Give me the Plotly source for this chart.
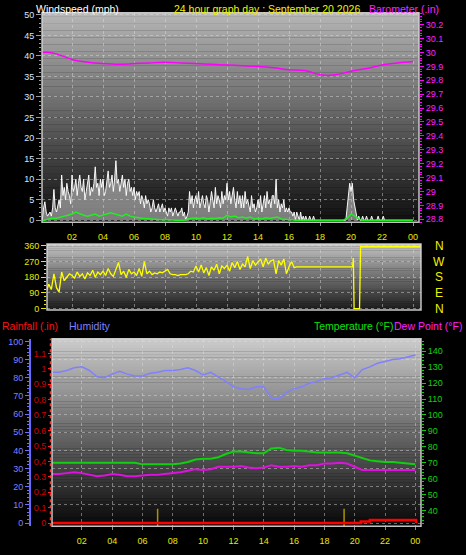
import numpy as np
import plotly.graph_objects as go

W, H = 466, 555

# ---------------- data ----------------
hour_ticks = [2, 4, 6, 8, 10, 12, 14, 16, 18, 20, 22, 24]
hour_labels = ['02', '04', '06', '08', '10', '12', '14', '16', '18', '20', '22', '00']

# wind gust (mph), 5-minute samples from 00:00
gust = [
    0, 0, 3, 4.5, 2, 1, 1.5, 2, 1, 3, 7.5, 3,
    2, 4, 5, 3, 11, 6, 8, 5, 9, 7, 6, 4,
    11, 7, 8, 10, 6, 9, 11, 8, 7, 10, 5, 7,
    9, 11, 6, 8, 7, 9, 13, 8, 9, 6, 10, 8,
    10, 6, 7, 9, 12, 8, 9, 11, 7, 10, 14.5, 9,
    10, 7, 9, 11, 8, 10, 6, 9, 10, 7, 8, 6,
    8, 5, 7, 6, 7, 4, 6, 5, 3, 6, 4, 5,
    4, 2, 3, 5, 3, 2, 3, 4, 2, 3, 4, 2,
    3, 2, 1, 3, 2, 3, 1, 2, 3, 2, 1, 2,
    2, 3, 1, 2, 0, 1, 2, 7, 4, 6, 3, 5,
    6, 4, 7, 3, 5, 6, 4, 3, 6, 5, 2, 4,
    7, 5, 3, 8, 4, 6, 5, 3, 7, 4, 6, 5,
    9, 5, 7, 4, 6, 8, 5, 3, 7, 4, 6, 3,
    6, 3, 7, 4, 5, 3, 2, 6, 3, 4, 2, 3,
    5, 3, 6, 2, 4, 6, 3, 7, 4, 5, 3, 6,
    6, 4, 10, 3, 5, 2, 4, 3, 5, 2, 3, 2,
    3, 2, 2, 1, 2, 0, 2, 1, 0, 2, 0, 1,
    0, 1, 0, 0, 1, 0, 0, 1, 0, 0, 0, 0,
    0, 0, 0, 0, 0, 0, 0, 0, 0, 0, 0, 0,
    0, 0, 0, 0, 0, 0, 0, 0, 0, 3, 6, 9,
    7, 9, 5, 3, 1, 0, 1, 0, 0, 1, 0, 0,
    1, 0, 0, 0, 1, 0, 0, 0, 0, 1, 0, 0,
    0, 1, 0, 0, 0, 0, 0, 0, 0, 0, 0, 0,
    0, 0, 0, 0, 0, 0, 0, 0, 0, 0, 0, 0,
    0,
]
gust_time = np.arange(len(gust)) / 12.0

# average wind speed (mph), 15-minute samples
avg_wind = [
    0, 0, 0.3, 0.5,
    0.5, 0.8, 1, 1.2,
    1.5, 2, 1.5, 1.2,
    1, 1.2, 1.5, 1,
    1.2, 1.5, 1.8, 1.5,
    1.2, 1, 1.5, 1,
    0.8, 0.6, 0.5, 0.4,
    0.3, 0.2, 0.2, 0.1,
    0.2, 0.1, 0, 0,
    0, 0, 0.3, 0.5,
    0.5, 0.4, 0.6, 0.3,
    0.5, 0.4, 0.6, 0.5,
    1.2, 0.8, 1, 0.6,
    0.8, 0.5, 0.8, 0.3,
    0.5, 0.3, 0.6, 0.4,
    0.6, 0.8, 0.3, 0.2,
    0.2, 0, 0, 0,
    0, 0, 0, 0,
    0, 0, 0, 0,
    0, 0, 0, 0.5,
    1.5, 1, 0.3, 0,
    0, 0, 0, 0,
    0, 0, 0, 0,
    0, 0, 0, 0,
    0,
]
avg_time = np.arange(len(avg_wind)) / 4.0

# barometer (inHg)
baro_time = [0, 0.5, 1, 2, 3, 4, 5, 6, 7, 8, 9, 10, 11, 12, 13, 14, 15, 16, 17, 18,
             18.5, 19, 20, 21, 22, 23, 24]
baro = [30.00, 30.00, 29.99, 29.95, 29.93, 29.92, 29.915, 29.92, 29.925, 29.93,
        29.925, 29.92, 29.915, 29.91, 29.905, 29.90, 29.89, 29.875, 29.87, 29.84,
        29.835, 29.84, 29.865, 29.885, 29.91, 29.925, 29.935]

# wind direction (degrees), 10-minute samples 00:00-16:20
wind_dir = [
    100, 130, 95, 140, 110, 200,
    120, 95, 210, 160, 180, 200,
    190, 175, 210, 185, 200, 170,
    205, 190, 220, 180, 210, 195,
    215, 190, 230, 200, 185, 220,
    265, 195, 215, 180, 225, 200,
    210, 190, 230, 185, 270, 200,
    215, 195, 205, 200, 210, 205,
    215, 225, 200, 195, 195, 190,
    195, 195, 195, 200, 215, 210,
    245, 210, 250, 205, 235, 190,
    240, 220, 255, 200, 245, 230,
    250, 215, 265, 235, 270, 225,
    255, 240, 300, 230, 275, 250,
    265, 285, 240, 290, 255, 275,
    280, 200, 275, 250, 285, 200,
    240, 270, 235,
]
wind_dir_time = list(np.arange(len(wind_dir)) / 6.0)
dir_tail_time = [16.5, 20.1, 20.15, 20.2, 20.55, 20.62, 24.5]
dir_tail = [240, 240, 290, 0, 0, 355, 355]

# bottom panel, half-hourly
half_hours = np.arange(49) * 0.5
humidity = [83, 83, 84, 85.5, 86, 84, 80.5, 80, 82, 83.5, 82, 81, 81, 82.5, 83, 84,
            84, 84.5, 85.5, 84, 81.5, 83, 80.5, 78, 75, 74, 73.5, 75, 75, 69, 68.5,
            72, 74, 75, 77, 78, 79.5, 80, 81.5, 83, 80, 84.5, 86, 88, 89, 90, 90.5,
            91.5, 92.5]
temperature = [70, 70, 70, 70, 70, 70, 70, 70, 70, 70, 70, 70, 69, 69, 69, 69, 69,
               69.5, 70.5, 72, 72.5, 72.5, 73.5, 75.5, 77, 77, 76.5, 76, 76, 79, 79.5,
               78, 77.5, 77.5, 77, 76.5, 76.5, 76.5, 76.5, 76, 74.5, 73, 71.5, 71,
               70.5, 70.5, 70, 69.5, 69]
dewpoint = [63, 63, 63.5, 64, 63.5, 62.5, 61.5, 62, 63, 62.5, 61.5, 61.5, 62, 62.5,
            62.5, 63, 63.5, 64, 65, 66, 65.5, 66, 67.5, 67.5, 67.5, 68, 67, 66.5, 67,
            68.5, 67.5, 67.5, 68, 67.5, 68.5, 68.5, 69.5, 69.5, 70, 69.5, 67.5, 65.5,
            65.5, 65.5, 65.5, 65.5, 65.5, 65.5, 65.5]
rain_time = [0, 20.4, 21.0, 23.95, 24.05]
rain = [0, 0.01, 0.02, 0.02, 0]
sun_marks = [7.0, 19.3]

# ---------------- helpers ----------------
def fx(x):
    return x / W

def fy(y):
    return 1 - y / H

FONT = "Liberation Sans, Arial, sans-serif"
TICK = 9

shapes = []

def gradient(x0, x1, y0, y1, top, bot, n=60):
    for i in range(n):
        t = (i + 0.5) / n
        c = [int(round(top[k] + (bot[k] - top[k]) * t)) for k in range(3)]
        ya = y0 + (y1 - y0) * i / n
        yb = y0 + (y1 - y0) * (i + 1) / n + 0.3
        shapes.append(dict(type='rect', xref='paper', yref='paper',
                           x0=fx(x0), x1=fx(x1), y0=fy(yb), y1=fy(ya),
                           fillcolor='rgb(%d,%d,%d)' % tuple(c),
                           line=dict(width=0), layer='below'))

def frame(x0, x1, y0, y1, color):
    shapes.append(dict(type='rect', xref='paper', yref='paper',
                       x0=fx(x0), x1=fx(x1), y0=fy(y1), y1=fy(y0),
                       line=dict(color=color, width=1.5), fillcolor='rgba(0,0,0,0)',
                       layer='above'))

# panel geometry (pixels)
TOP = (42, 419, 10, 222)
DIR = (47, 421, 244, 311)
BOT = (52, 421, 340, 530)

gradient(*TOP, (182, 182, 182), (14, 14, 14))
gradient(*DIR, (196, 196, 196), (26, 26, 26), n=30)
gradient(*BOT, (204, 204, 204), (6, 6, 6))
frame(*TOP, 'rgba(215,215,215,0.9)')
frame(*DIR, 'rgba(215,215,215,0.9)')
frame(*BOT, 'rgba(215,215,215,0.9)')
# rain axis dashed line
shapes.append(dict(type='line', xref='paper', yref='paper', x0=fx(50.5), x1=fx(50.5),
                   y0=fy(530), y1=fy(340), line=dict(color='#ff3030', width=1.5, dash='dot'),
                   layer='above'))

fig = go.Figure()

# top panel
fig.add_trace(go.Scatter(x=gust_time, y=gust, mode='lines', xaxis='x', yaxis='y',
                         line=dict(color='rgba(255,255,255,0.95)', width=1),
                         fill='tozeroy', fillcolor='rgba(215,215,215,0.55)',
                         name='Gust', hoverinfo='skip'))
fig.add_trace(go.Scatter(x=avg_time, y=avg_wind, mode='lines', xaxis='x', yaxis='y',
                         line=dict(color='#22ee22', width=1.5), name='Wind'))
fig.add_trace(go.Scatter(x=baro_time, y=baro, mode='lines', xaxis='x', yaxis='y2',
                         line=dict(color='#ff00ff', width=1.5, shape='spline'),
                         name='Barometer'))

# direction panel
fig.add_trace(go.Scatter(x=wind_dir_time + dir_tail_time, y=wind_dir + dir_tail,
                         mode='lines', xaxis='x2', yaxis='y3',
                         line=dict(color='#ffff00', width=1.3), name='Direction'))

# bottom panel
fig.add_trace(go.Scatter(x=half_hours, y=humidity, mode='lines', xaxis='x3', yaxis='y5',
                         line=dict(color='#8080ff', width=1.5), name='Humidity'))
fig.add_trace(go.Scatter(x=half_hours, y=temperature, mode='lines', xaxis='x3', yaxis='y6',
                         line=dict(color='#10d010', width=2), name='Temperature'))
fig.add_trace(go.Scatter(x=half_hours, y=dewpoint, mode='lines', xaxis='x3', yaxis='y6',
                         line=dict(color='#e010e0', width=2), name='Dew Point'))
sx, sy = [], []
for s in sun_marks:
    sx += [s, s, None]
    sy += [-0.03, 0.093, None]
fig.add_trace(go.Scatter(x=sx, y=sy, mode='lines', xaxis='x3', yaxis='y4',
                         line=dict(color='#a89400', width=1.5), name='sun'))
fig.add_trace(go.Scatter(x=rain_time, y=rain, mode='lines', xaxis='x3', yaxis='y4',
                         line=dict(color='#ff0000', width=2.5, shape='hv'), name='Rain'))

GRID = 'rgba(225,225,225,0.45)'
xfont = dict(family=FONT, size=TICK, color='#e8e800')

def xaxis(dom, rng, anchor, labels, standoff):
    return dict(domain=[fx(dom[0]), fx(dom[1])], range=rng, anchor=anchor,
                tickmode='array', tickvals=hour_ticks, ticktext=hour_labels,
                showticklabels=labels, tickfont=xfont, ticks='outside' if labels else '',
                ticklen=3, tickcolor='#909090', ticklabelstandoff=standoff,
                showgrid=True, gridcolor=GRID, griddash='dot', gridwidth=1,
                zeroline=False, showline=False, fixedrange=True)

layout = dict(
    width=W, height=H, margin=dict(l=0, r=0, t=0, b=0),
    paper_bgcolor='black', plot_bgcolor='rgba(0,0,0,0)', showlegend=False,
    font=dict(family=FONT, size=TICK, color='white'),
    xaxis=xaxis(TOP[:2], [(42 - 41) / 15.5, (419 - 41) / 15.5], 'y', True, 3),
    xaxis2=xaxis(DIR[:2], [(47 - 41) / 15.5, (421 - 41) / 15.5], 'y3', False, 0),
    xaxis3=xaxis(BOT[:2], [(52 - 51.5) / 15.16, (421 - 51.5) / 15.16], 'y4', True, 3),
    yaxis=dict(domain=[fy(222), fy(10)], range=[-0.48, 50.48], anchor='x',
               tickmode='linear', tick0=0, dtick=5, ticks='outside', ticklen=5,
               tickcolor='#a0a0a0', tickfont=dict(family=FONT, size=TICK, color='#d8e6ff'),
               minor=dict(ticks='outside', ticklen=2, tickcolor='#a0a0a0', dtick=1, showgrid=False),
               showgrid=True, gridcolor=GRID, griddash='dot', zeroline=False, fixedrange=True),
    yaxis2=dict(overlaying='y', side='right', anchor='x', range=[28.779, 30.285],
                tickmode='linear', tick0=28.8, dtick=0.1, ticks='outside', ticklen=4,
                tickcolor='#ff00ff', tickfont=dict(family=FONT, size=TICK, color='#ff20ff'),
                minor=dict(ticks='outside', ticklen=2, tickcolor='#ff00ff', dtick=0.02),
                showgrid=False, zeroline=False, fixedrange=True),
    yaxis3=dict(domain=[fy(311), fy(244)], range=[-8.5, 371.3], anchor='x2',
                tickmode='linear', tick0=0, dtick=90, ticks='outside', ticklen=5,
                tickcolor='#e8e800', tickfont=dict(family=FONT, size=TICK, color='#e8e800'),
                minor=dict(ticks='outside', ticklen=2, tickcolor='#e8e800', dtick=22.5, showgrid=False),
                showgrid=True, gridcolor=GRID, griddash='dot', zeroline=False, fixedrange=True),
    yaxis4=dict(domain=[fy(530), fy(340)], range=[-0.021, 1.196], anchor='x3',
                tickmode='linear', tick0=0, dtick=0.1, ticks='outside', ticklen=3,
                tickcolor='#ff2020', tickfont=dict(family=FONT, size=TICK, color='#d00000'),
                showgrid=False, zeroline=False, fixedrange=True),
    yaxis5=dict(overlaying='y4', anchor='free', position=fx(30), side='left',
                range=[-1.8, 101.5], tickmode='linear', tick0=0, dtick=10,
                ticks='outside', ticklen=4, tickcolor='#7070ff',
                tickfont=dict(family=FONT, size=TICK, color='#8080ff'),
                minor=dict(ticks='outside', ticklen=2, tickcolor='#7070ff', dtick=2, showgrid=False),
                showline=True, linecolor='#6a6aff', linewidth=2,
                showgrid=True, gridcolor=GRID, griddash='dot', zeroline=False, fixedrange=True),
    yaxis6=dict(overlaying='y4', side='right', anchor='x3', range=[30.1, 147.9],
                tickmode='linear', tick0=40, dtick=10, ticks='outside', ticklen=4,
                tickcolor='#10d010', tickfont=dict(family=FONT, size=TICK, color='#10d010'),
                minor=dict(ticks='outside', ticklen=2, tickcolor='#10d010', dtick=2, showgrid=False),
                showgrid=False, zeroline=False, fixedrange=True),
    shapes=shapes,
)

def label(text, x, y, color, size=10.5, anchor='left'):
    return dict(text=text, x=fx(x), y=fy(y), xref='paper', yref='paper',
                xanchor=anchor, yanchor='middle', showarrow=False,
                font=dict(family=FONT, size=size, color=color))

annotations = [
    label('Windspeed (mph)', 34, 6, 'white'),
    label('24 hour graph day : September 20 2026', 172, 6, '#f0f000'),
    label('Barometer (.in)', 441, 6, '#ff20ff', anchor='right'),
    label('Rainfall (.in)', 0, 327, '#ff1010'),
    label('Humidity', 67, 327, '#8080ff'),
    label('Temperature (°F)', 312, 327, '#10e010'),
    label('Dew Point (°F)', 464, 327, '#ff20ff', anchor='right'),
]
for letter, yy in zip(['N', 'W', 'S', 'E', 'N'], [246, 262, 278, 294, 310]):
    annotations.append(label(letter, 439, yy, '#f0f000', size=12, anchor='center'))
layout['annotations'] = annotations

fig.update_layout(**layout)
fig.write_html("out.html", config={'displayModeBar': False, 'staticPlot': True},
               post_script="document.body.style.margin='0';document.body.style.padding='0';"
                           "document.body.style.background='black';")
